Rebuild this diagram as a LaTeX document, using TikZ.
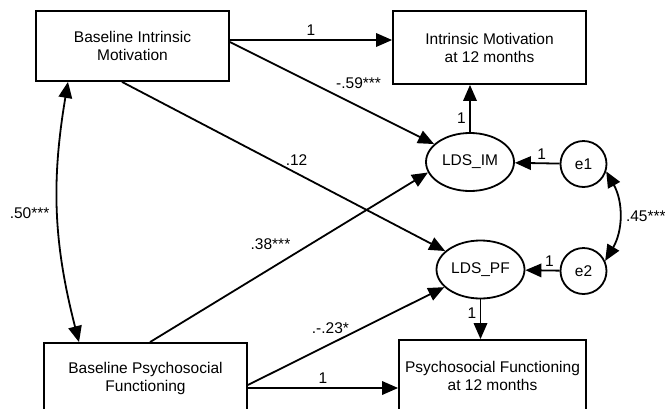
\documentclass[tikz,border=0pt]{standalone}
\usepackage{fontspec}
\setmainfont{Liberation Sans}
\usetikzlibrary{shapes.geometric,arrows.meta}

\begin{document}
\begin{tikzpicture}[x=1pt,y=-1pt,line width=1.8pt,
                    >={Triangle[length=16pt,width=13.5pt]},
                    font=\fontsize{15.5}{18}\selectfont,
                    obs node/.style={rectangle,draw,align=center,inner sep=0pt},
                    lat node/.style={ellipse,draw,minimum width=88pt,minimum height=58pt,inner sep=0pt},
                    err node/.style={circle,draw,minimum size=46pt,inner sep=0pt}]

  \useasboundingbox (0,0) rectangle (665,408);
  \clip (0,0) rectangle (665,408);

  \node[obs node,minimum width=193pt,minimum height=70pt] (1) at (132.5,46) {Baseline Intrinsic\\Motivation};
  \node[obs node,minimum width=193pt,minimum height=73pt] (2) at (489.5,47.5) {Intrinsic Motivation\\at 12 months};
  \node[lat node] (3) at (470,162) {LDS\_IM};
  \node[lat node] (4) at (480.5,269.5) {LDS\_PF};
  \node[err node] (5) at (583.5,164) {e1};
  \node[err node] (6) at (583.5,271) {e2};
  \node[obs node,minimum width=203pt,minimum height=70pt] (7) at (145.5,378) {Baseline Psychosocial\\Functioning};
  \node[obs node,minimum width=187pt,minimum height=72pt] (8) at (492.5,376) {Psychosocial Functioning\\at 12 months};

  \path[->]
    ([yshift=6pt]1.east) edge node [above] {1} ([yshift=7.5pt]2.west)
    ([yshift=4pt]1.east) edge node [pos=0.5,above right] {-.59***} (3)
    ([xshift=-10.5pt]1.south) edge node [pos=0.54,above=3pt] {.12} (4)
    ([xshift=4.5pt]7.north) edge node [pos=0.52,above left] {.38***} (3.194)
    ([yshift=-7pt]7.east) edge node [pos=0.42,above=6pt] {.-.23*} (4.206)
    ([yshift=-10pt]7.east) edge node [above] {1} ([yshift=-12pt]8.west)
    (3.north) edge node [left,pos=0.3] {1} (3.north |- 2.south)
    (5) edge node [above,pos=0.4] {1} (3)
    (6) edge node [above,pos=0.3] {1} (4)
    (4.south) edge node [left,pos=0.35] {1} (4.south |- 8.north);

  \path[<->]
    ([xshift=-64.5pt]1.south) edge [bend right=12] node [left=4pt] {.50***} ([xshift=-66.5pt]7.north)
    (5.-18) edge [bend left=30] node [right=3pt] {.45***} (6.25);
\end{tikzpicture}
\end{document}
